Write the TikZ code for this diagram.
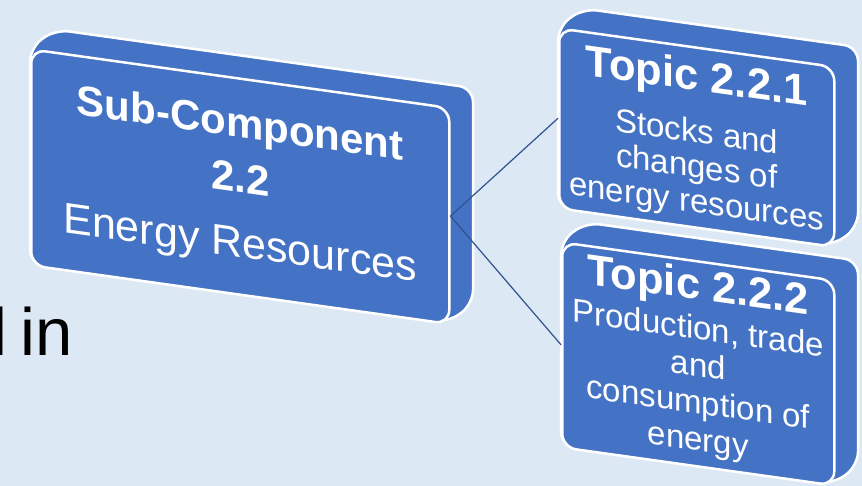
\documentclass[tikz,border=0pt]{standalone}
\usepackage{fontspec}
\setmainfont{Liberation Sans}
\definecolor{bgblue}{RGB}{221,232,245}
\definecolor{boxblue}{RGB}{68,114,196}
\definecolor{linkblue}{RGB}{47,82,143}
\begin{document}
\begin{tikzpicture}[line cap=round,line join=round,x=1pt,y=-1pt,
	hull/.style={draw=white,line width=2.5pt,fill=boxblue,rounded corners=14pt},
	face/.style={draw=white,line width=2.5pt,fill=boxblue,rounded corners=14pt,text=white,
		align=center,inner sep=0pt,anchor=north west,transform shape},
	link/.style={draw=linkblue,line width=1.2pt}]
		\useasboundingbox (0,0) rectangle (862,486);
		\clip (0,0) rectangle (862,486);
		\fill[bgblue] (0,0) rectangle (862,486);
		\node[anchor=base west,inner sep=0pt,font=\fontsize{67}{67}\selectfont] (slide) at (-8,355) {\spaceskip=13.5pt l in};
		% sub-component block
		\begin{scope}[shift={(30,48)},yslant=-0.14]
		\draw[hull] (0,216)-- (0,0)-- (25,-22)-- (443,-22)-- (443,194)-- (418,216)-- cycle;
		\node[face,minimum width=418pt,minimum height=216pt,text height=150pt,
			font=\fontsize{42}{55}\selectfont] (sub) at (0,0)
			{{\bfseries Sub-Component}\\{\bfseries 2.2}\\[10pt]{\fontsize{43}{55}\selectfont Energy Resources}};
		\end{scope}
		% topic 2.2.1
		\begin{scope}[shift={(558,27)},yslant=-0.14]
		\draw[hull] (0,180)-- (0,0)-- (25,-22)-- (300,-22)-- (300,158)-- (275,180)-- cycle;
		\node[face,minimum width=275pt,minimum height=180pt,text height=157pt,
			font=\fontsize{33}{35}\selectfont] (topicA) at (0,0)
			{{\fontsize{43.5}{43.5}\selectfont\bfseries Topic 2.2.1}\\[17pt]Stocks and\\changes of\\energy resources};
		\end{scope}
		% topic 2.2.2
		\begin{scope}[shift={(561,241)},yslant=-0.14]
		\draw[hull] (0,205)-- (0,0)-- (25,-22)-- (297,-22)-- (297,183)-- (272,205)-- cycle;
		\node[face,minimum width=272pt,minimum height=205pt,text height=180pt,
			font=\fontsize{33}{37}\selectfont] (topicB) at (0,0)
			{{\fontsize{43.5}{43.5}\selectfont\bfseries Topic 2.2.2}\\[3pt]Production, trade\\and\\consumption of\\energy};
		\end{scope}
		\draw[link] (sub.east)-- (topicA.west);
		\draw[link] (sub.east)-- (topicB.west);
\end{tikzpicture}
\end{document}
